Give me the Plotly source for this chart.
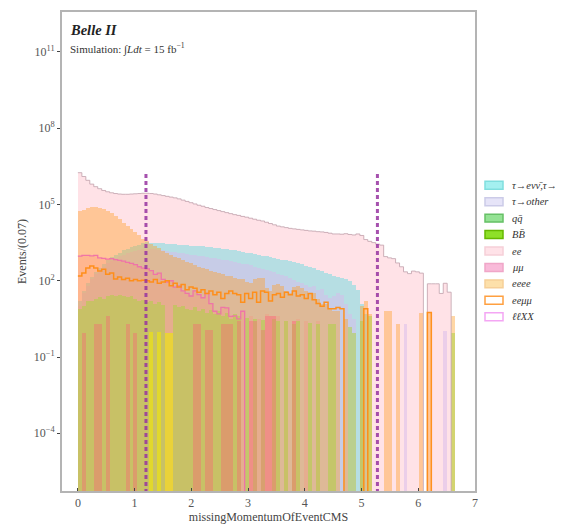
import plotly.graph_objects as go

# ---------------- data (log10 of events per 0.07 bin; None = empty bin) ----------------
bin_start = 0.0
bin_width = 0.07
n_bins = 96

ee_log10 = [6.25, 6.1, 5.95, 5.8, 5.7, 5.62, 5.55, 5.5, 5.46, 5.43, 5.41, 5.4, 5.4, 5.41, 5.42, 5.43,
            5.44, 5.44, 5.43, 5.41, 5.38, 5.35, 5.32, 5.29, 5.26, 5.22, 5.17, 5.12, 5.07, 5.02, 4.97, 4.93,
            4.88, 4.84, 4.8, 4.76, 4.72, 4.68, 4.64, 4.6, 4.57, 4.53, 4.5, 4.46, 4.42, 4.38, 4.35, 4.3,
            4.25, 4.2, 4.15, 4.12, 4.09, 4.06, 4.04, 4.02, 4.0, 3.98, 3.96, 3.95, 3.93, 3.92, 3.9, 3.87,
            3.84, 3.84, 3.83, 3.85, 3.82, 3.8, 3.84, 3.78, 3.62, 3.55, 3.5, 3.44, 3.4, 2.95, 2.9, 2.87,
            2.7, 2.55, 2.35, 2.28, 2.38, 2.35, 2.3, None, 1.88, 1.88, 1.88, 1.5, 1.9, 1.55, None, None]

eeee_log10 = [4.73, 4.8, 4.86, 4.89, 4.89, 4.87, 4.83, 4.76, 4.67, 4.55, 4.42, 4.28, 4.15, 4.02, 3.9, 3.78,
              3.65, 3.55, 3.45, 3.36, 3.27, 3.18, 3.1, 3.02, 2.95, 2.88, 2.81, 2.74, 2.68, 2.62, 2.56, 2.5,
              2.45, 2.4, 2.35, 2.3, 2.25, 2.2, 2.18, 2.12, 2.08, 2.05, 1.95, 1.9, 2.05, 2.1, 2.1, 1.7,
              1.6, 1.85, 1.87, 1.8, 1.6, 1.52, 1.75, 1.8, 1.7, 1.6, 1.5, 1.5, 1.3, 1.1, 1.1, 0.9,
              0.8, 0.8, None, 0.5, None, None, None, 1.0, 1.2, 0.7, None, None, None, 0.8, 0.8, None,
              0.3, None, None, None, None, None, 0.75, None, 0.75, None, None, None, None, None, 0.62, None]

tau_e_pi_log10 = [1.2, 1.6, 1.9, 2.15, 2.35, 2.52, 2.67, 2.8, 2.92, 3.02, 3.11, 3.19, 3.26, 3.32, 3.37, 3.41,
                  3.47, 3.51, 3.5, 3.5, 3.49, 3.47, 3.46, 3.45, 3.43, 3.42, 3.4, 3.39, 3.38, 3.37, 3.36, 3.35,
                  3.33, 3.31, 3.29, 3.27, 3.26, 3.24, 3.22, 3.2, 3.17, 3.14, 3.11, 3.08, 3.05, 3.02, 2.99, 2.96,
                  2.93, 2.9, 2.86, 2.83, 2.8, 2.76, 2.72, 2.68, 2.64, 2.59, 2.54, 2.49, 2.43, 2.37, 2.31, 2.27,
                  2.2, 2.15, 2.1, 2.05, 2.0, 1.85, 1.65, 1.1, 0.7, None, None, None, None, None, None, None,
                  None, None, None, None, None, None, None, None, None, None, None, None, None, None, None, None]

tau_other_log10 = [1.0, 1.5, 1.8, 2.05, 2.25, 2.42, 2.56, 2.68, 2.79, 2.88, 2.96, 3.03, 3.09, 3.14, 3.18, 3.21,
                   3.23, 3.24, 3.24, 3.23, 3.21, 3.19, 3.17, 3.15, 3.13, 3.1, 3.08, 3.05, 3.03, 3.0, 2.98, 2.96,
                   2.93, 2.91, 2.88, 2.85, 2.82, 2.8, 2.77, 2.74, 2.7, 2.67, 2.64, 2.6, 2.56, 2.52, 2.48, 2.43,
                   2.38, 2.33, 2.28, 2.22, 2.17, 2.1, 2.04, 1.97, 1.9, 1.82, 1.74, 1.8, 1.62, 1.68, 1.45, 1.33,
                   1.4, 1.5, 1.45, 1.1, 0.7, 0.5, None, 0.4, None, None, None, None, None, None, None, None,
                   None, None, 0.3, None, None, None, None, None, None, None, None, None, 0.03, None, None, None]

mumu_log10 = [2.97, 3.0, 3.0, 2.98, 3.0, 2.9, 2.88, 2.85, 2.87, 2.83, 2.8, 2.77, 2.72, 2.68, 2.63, 2.55,
              2.5, 2.47, 2.4, 2.25, 2.3, 2.05, 1.95, 2.0, 1.75, 1.8, 1.6, 1.5, 1.4, 1.6, 1.45, 1.33,
              1.5, 1.1, 0.8, 0.7, 0.95, 0.93, 0.6, 0.62, 0.5, 0.8, None, 0.6, None, 0.5, None, 0.7,
              0.62, 0.62, 0.6, None, 0.42, None, 0.42, 0.5, None, 0.42, None, None, 0.4, None, None, None,
              None, None, None, None, None, None, None, None, None, None, None, None, None, None, None, None,
              None, None, None, None, None, None, None, None, None, None, None, None, None, None, None, None]

eemumu_log10 = [2.19, 2.3, 2.5, 2.58, 2.5, 2.38, 2.45, 2.26, 2.3, 2.07, 2.15, 2.05, 2.1, 2.0, 2.05, 2.0,
                2.02, 2.0, 1.95, 2.05, 1.9, 1.95, 2.0, 1.8, 1.9, 1.75, 1.85, 1.65, 1.75, 1.7, 1.55, 1.65,
                1.5, 1.6, 1.45, 1.55, 1.3, 1.5, 1.6, 1.5, 1.45, 1.15, 1.5, 1.3, 1.55, 1.15, 1.6, 1.55,
                1.2, 1.45, 1.5, 1.35, 1.55, 1.45, 1.6, 1.4, 1.45, 1.3, 1.5, 1.25, 1.1, 1.0, 1.15, 0.9,
                0.9, 0.95, 0.9, None, None, None, None, None, 0.9, None, None, None, None, None, None, None,
                None, None, None, None, None, None, None, None, 0.75, None, None, None, None, None, None, None]

qqbar_log10 = [0.9, 1.0, 1.2, 1.2, 1.3, 1.35, 1.3, 1.4, 1.45, 1.4, 1.45, 1.4, 1.35, 1.4, 1.3, 1.2,
               1.25, 1.15, 1.2, 1.1, 1.15, 1.05, None, None, 1.05, 0.95, 1.0, 0.9, 0.85, 0.95, 0.8, 0.9,
               0.75, 0.85, 0.7, 0.8, 0.6, 0.75, 0.5, 0.7, 0.6, None, 0.55, None, 0.5, None, 0.45, None,
               None, 0.5, 0.42, None, 0.4, None, 0.3, 0.42, None, None, 0.35, None, 0.3, None, None, 0.3,
               0.3, None, None, None, 0.2, -0.05, None, 0.42, None, 0.6, None, None, None, None, None, None,
               None, None, None, None, None, None, None, None, None, None, None, None, None, None, -0.05, None]

bbbar_log10 = [None] * 18 + [0.0, None, 0.0, None, -0.05, -0.05] + [None] * 72

llxx_log10 = [None, -0.05, None, None, 0.3, 0.3, None, 0.62, None, None, None, None, 0.3, None, -0.05, None,
              None, None, None, None, None, None, None, None, None, None, None, None, None, 0.3, 0.3, None,
              0.05, 0.05, None, None, 0.3, 0.3, 0.3, None, 0.4, None, None, 0.4, 0.4, None, 0.05, 0.62,
              0.62, 0.62, None, None, None, None, 0.42, None, None, None, None, None, None, None, None, None,
              None, None, None, None, None, None, None, None, None, None, None, None, None, None, None, None,
              None, None, None, None, None, None, None, None, None, None, None, None, None, None, None, None]

cut_values = [1.2, 5.28]
cut_line_top = 10 ** 6.2

x_ticks = [0, 1, 2, 3, 4, 5, 6, 7]
y_tick_exponents = [-4, -1, 2, 5, 8, 11]

legend_labels = ["τ→eνν̄,τ→π", "τ→other", "qq̄", "BB̄", "ee", "μμ", "eeee", "eeμμ", "ℓℓXX"]
legend_fills = ["#a4f0f0", "#e6e4f8", "#94e294", "#8ee028", "#ffe2e8", "#f9bad9", "#fde0aa", "#ffffff", "#ffffff"]
legend_edges = ["#80dede", "#cccbe8", "#66c066", "#66b800", "#f6d0d8", "#f0a6c8", "#f6cf98", "#ffa040", "#f4a6f4"]

# ---------------- helpers ----------------
FLOOR = 1e-8
centers = [bin_start + bin_width * (i + 0.5) for i in range(n_bins)]
edges = [bin_start + bin_width * i for i in range(n_bins + 1)]


def vals(logs):
    return [None if v is None else 10 ** v for v in logs]


def step_y(logs):
    ys = [FLOOR if v is None else 10 ** v for v in logs]
    return ys + [ys[-1]]


fig = go.Figure()


def add_bars(logs, color, name):
    fig.add_trace(go.Bar(x=centers, y=vals(logs), width=bin_width, base=FLOOR,
                         marker=dict(color=color, line=dict(width=0)), name=name,
                         showlegend=False, hoverinfo="skip"))


add_bars(ee_log10, "rgba(255,185,198,0.42)", "ee")
add_bars(tau_e_pi_log10, "rgba(40,215,220,0.34)", "tau_e")
add_bars(tau_other_log10, "rgba(215,185,235,0.5)", "tau_o")
add_bars(mumu_log10, "rgba(255,120,180,0.25)", "mumu")
add_bars(eeee_log10, "rgba(255,160,40,0.42)", "eeee")
add_bars(qqbar_log10, "rgba(175,210,70,0.55)", "qq")
add_bars(bbbar_log10, "rgba(235,225,20,0.7)", "bb")
add_bars(llxx_log10, "rgba(255,90,120,0.35)", "llxx")


def add_step(logs, color, width):
    fig.add_trace(go.Scatter(x=edges, y=step_y(logs), mode="lines", line_shape="hv",
                             line=dict(color=color, width=width), showlegend=False, hoverinfo="skip"))


add_step(ee_log10, "rgba(200,170,180,0.9)", 1)
add_step(mumu_log10[:42] + [None] * (n_bins - 42), "rgba(240,110,170,0.9)", 1.3)
add_step(eemumu_log10, "rgba(255,140,20,0.95)", 1.5)

for c in cut_values:
    fig.add_trace(go.Scatter(x=[c, c], y=[FLOOR, cut_line_top], mode="lines",
                             line=dict(color="rgba(150,50,160,0.85)", width=3, dash="4px,3px"),
                             showlegend=False, hoverinfo="skip"))

# ---------------- layout (page has an 8px body margin; compensate) ----------------
W, H = 563, 527
OFF = 8
PL, PR, PT, PB = 62, 475, 10, 491          # plot area in page pixels
L, T = PL - OFF, PT - OFF
R, B = (W + OFF) - PR, (H + OFF) - PB
pw, ph = PR - PL, PB - PT


def px_x(px):
    return (px - PL) / pw


def px_y(py):
    return (PB - py) / ph


shapes = []
annotations = []
for k, (lab, fc, ec) in enumerate(zip(legend_labels, legend_fills, legend_edges)):
    yc = 184 + 16.5 * k
    shapes.append(dict(type="rect", xref="paper", yref="paper", x0=px_x(485), x1=px_x(503),
                       y0=px_y(yc + 4), y1=px_y(yc - 4),
                       fillcolor=fc, line=dict(color=ec, width=1.5), layer="above"))
    annotations.append(dict(xref="paper", yref="paper", x=px_x(510), y=px_y(yc),
                            text="<i>" + lab + "</i>", showarrow=False, xanchor="left", yanchor="middle",
                            font=dict(family="Liberation Serif", size=10.5, color="#333")))

annotations.append(dict(xref="paper", yref="paper", x=px_x(68), y=px_y(18),
                        text="<b><i>Belle II</i></b>", showarrow=False, xanchor="left", yanchor="top",
                        font=dict(family="Liberation Serif", size=14.5, color="#222")))
annotations.append(dict(xref="paper", yref="paper", x=px_x(68), y=px_y(37),
                        text="Simulation: ∫<i>Ldt</i> = 15 fb<sup>−1</sup>", showarrow=False,
                        xanchor="left", yanchor="top",
                        font=dict(family="Liberation Serif", size=11, color="#333")))

fig.update_layout(
    width=W, height=H,
    margin=dict(l=L, r=R, t=T, b=B, pad=0),
    paper_bgcolor="white", plot_bgcolor="white",
    barmode="overlay", bargap=0,
    showlegend=False,
    shapes=shapes, annotations=annotations,
    font=dict(family="Liberation Serif", color="#444", size=11),
)
fig.update_xaxes(range=[-0.28, 7.0], tickvals=x_ticks, ticks="inside", ticklen=3,
                 showline=True, mirror=True, linecolor="#b4b4b4", linewidth=2, showgrid=False,
                 zeroline=False, title=dict(text="missingMomentumOfEventCMS", standoff=2,
                                            font=dict(size=12, color="#444")),
                 tickfont=dict(size=12, color="#555"))
fig.update_yaxes(type="log", range=[-6.27, 12.57],
                 tickvals=[10 ** e for e in y_tick_exponents],
                 ticktext=["10<sup>%s</sup>" % str(e).replace("-", "−") for e in y_tick_exponents],
                 ticks="outside", ticklen=3, showline=True, mirror=True, linecolor="#b4b4b4", linewidth=2,
                 showgrid=False, zeroline=False,
                 title=dict(text="Events/(0.07)", standoff=4, font=dict(size=12, color="#444")),
                 tickfont=dict(size=12, color="#555"))

fig.write_html("out.html")
